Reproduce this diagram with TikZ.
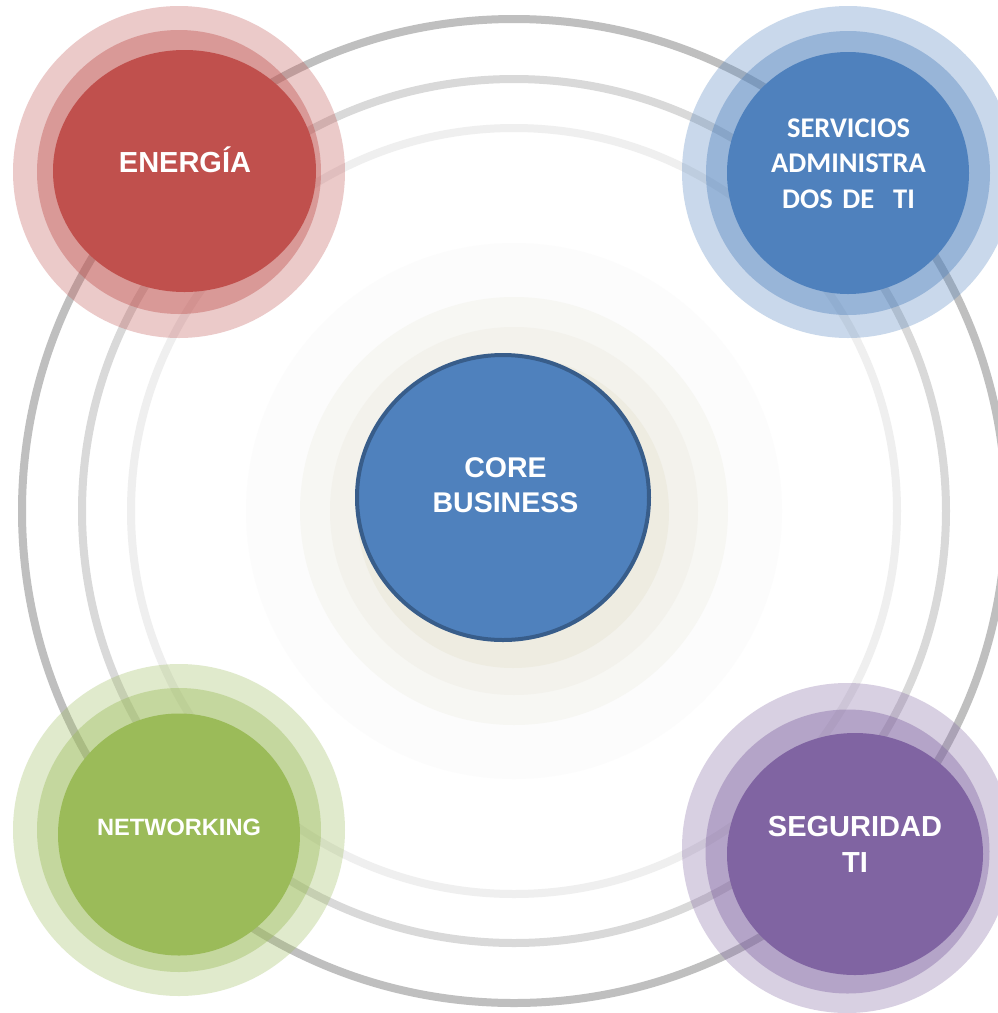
\documentclass[tikz,border=0pt]{standalone}
\usepackage{fontspec}
\setmainfont{Liberation Sans}
\newfontfamily\calfont{Carlito}
\usetikzlibrary{shapes.geometric}

\definecolor{cred}{HTML}{C0504D}
\definecolor{cblue}{HTML}{4F81BD}
\definecolor{cgreen}{HTML}{9BBB59}
\definecolor{cpurple}{HTML}{8064A2}
\definecolor{cborder}{HTML}{385D8A}
\definecolor{ringA}{HTML}{BFBFBF}
\definecolor{ringB}{HTML}{D9D9D9}
\definecolor{ringC}{HTML}{EFEFEF}
\definecolor{haloA}{HTML}{FCFCFC}
\definecolor{haloB}{HTML}{F7F7F3}
\definecolor{haloC}{HTML}{F3F2EC}
\definecolor{haloD}{HTML}{EEECE1}

\begin{document}
\begin{tikzpicture}[x=1pt,y=-1pt,
  ring/.style={line width=8pt},
  haloout/.style={fill=#1, fill opacity=0.3},
  haloin/.style={fill=#1, fill opacity=0.4},
  disc/.style={ellipse, inner sep=0pt, draw=none, fill=#1},
  lbl/.style={text=white, text width=300pt, align=center, inner sep=0pt, anchor=base},
]
\useasboundingbox (0,0) rectangle (997,1013);
\fill[white] (0,0) rectangle (997,1013);

% soft halos around the core
\coordinate (C) at (514,511);
\fill[haloA] (C) circle [radius=268];
\fill[haloB] (C) circle [radius=214];
\fill[haloC] (C) circle [radius=184];
\fill[haloD] (513,512) circle [radius=156];

% orbit rings
\draw[ring, ringC] (C) circle [radius=383];
\draw[ring, ringB] (C) circle [radius=432];
\draw[ring, ringA] (C) circle [radius=492];

% ENERGIA
\fill[haloout=cred] (179,172) circle [radius=166];
\fill[haloin=cred] (179,172) circle [radius=142];
\node[disc=cred, minimum width=263pt, minimum height=242pt] (energia) at (184.5,171) {};
% SERVICIOS
\fill[haloout=cblue] (848,172) circle [radius=166];
\fill[haloin=cblue] (848,173) circle [radius=142];
\node[disc=cblue, minimum width=242pt, minimum height=242pt] (servicios) at (848,173) {};
% NETWORKING
\fill[haloout=cgreen] (179,830) circle [radius=166];
\fill[haloin=cgreen] (179,830) circle [radius=142];
\node[disc=cgreen, minimum width=242pt, minimum height=242pt] (networking) at (179,834.5) {};
% SEGURIDAD
\fill[haloout=cpurple] (847,848) circle [radius=165];
\fill[haloin=cpurple] (847.5,851.5) circle [radius=142];
\node[disc=cpurple, minimum width=256pt, minimum height=242pt] (seguridad) at (855,854) {};

% CORE
\node[ellipse, inner sep=0pt, fill=cblue, draw=cborder, line width=4pt,
      minimum width=292pt, minimum height=285pt] (core) at (503,497.5) {};

% labels
\node[lbl, font=\bfseries\fontsize{29}{35}\selectfont] (tenergia) at (185,172) {ENERGÍA};
\node[lbl, font=\calfont\bfseries\fontsize{28.5}{35.5}\selectfont] (tservicios) at (848.5,137.3) {SERVICIOS\\ADMINISTRA\\DOS DE~~TI};
\node[lbl, font=\bfseries\fontsize{23.6}{28}\selectfont] (tnetworking) at (179,835.7) {NETWORKING};
\node[lbl, font=\bfseries\fontsize{29}{36.7}\selectfont] (tseguridad) at (855,836) {SEGURIDAD\\TI};
\node[lbl, font=\bfseries\fontsize{28.5}{35.4}\selectfont] (tcore) at (505.5,477.3) {CORE\\BUSINESS};
\end{tikzpicture}
\end{document}
